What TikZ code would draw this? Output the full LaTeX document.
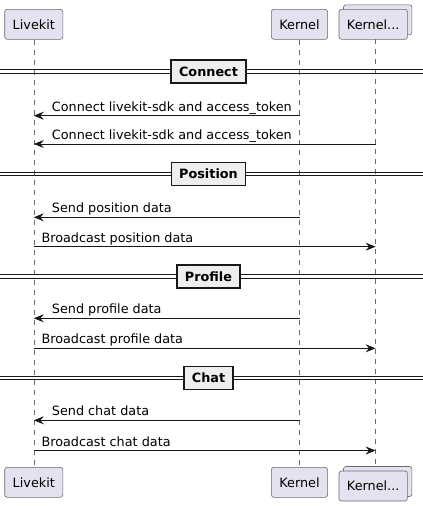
\documentclass[tikz,border=0pt]{standalone}
\usepackage{fontspec}
\setmainfont{DejaVu Sans}
\usepackage{xcolor}
\usetikzlibrary{positioning,calc,arrows.meta}

\definecolor{partfill}{HTML}{E2E2F0}
\definecolor{partline}{HTML}{181818}
\definecolor{sepfill}{HTML}{EEEEEE}

\tikzset{
    partbox/.style={draw=partline!65, line width=0.6pt, fill=partfill, rounded corners=2.5pt,
        minimum height=30pt, inner xsep=8pt, font=\fontsize{12.8}{15}\selectfont},
    lifeline/.style={draw=partline!65, line width=0.5pt, dash pattern=on 5pt off 5pt},
    msg/.style={draw=partline, line width=0.8pt, -{Stealth[length=10pt, width=8pt, inset=3.5pt]}},
    msgtext/.style={font=\fontsize{12.8}{15}\selectfont, inner sep=0pt, anchor=base west},
    seplabel/.style={draw=partline, line width=1.4pt, fill=sepfill, minimum height=23pt,
        inner xsep=8pt, font=\fontsize{12.8}{15}\selectfont\bfseries},
}

\begin{document}
\begin{tikzpicture}[x=1pt, y=-1pt]
    \useasboundingbox (0,0) rectangle (423,506);

    % Participants (top)
    \node [partbox] (lkTop) at (33.8, 24.3) {Livekit};
    \node [partbox] (kTop) at (299.5, 24.3) {Kernel};
    \node [partbox] (kcBack) at (377.7, 19.8) {\phantom{Kernel...}};
    \node [partbox] (kcTop) at (373.2, 24.3) {Kernel...};

    % Participants (bottom)
    \node [partbox] (lkBot) at (33.8, 482.3) {Livekit};
    \node [partbox] (kBot) at (299.5, 482.3) {Kernel};
    \node [partbox] (kcBotBack) at (377.7, 481.5) {\phantom{Kernel...}};
    \node [partbox] (kcBot) at (373.2, 486) {Kernel...};

    % Lifelines
    \coordinate (kcLineTop) at (375.6, 39.3);
    \coordinate (kcLineBot) at (375.6, 466.7);
    \draw [lifeline] (lkTop.south) -- (lkBot.north);
    \draw [lifeline] (kTop.south) -- (kBot.north);
    \draw [lifeline] (kcLineTop) -- (kcLineBot);

    % Dividers
    \foreach \y/\name in {71.5/Connect, 174/Position, 276.5/Profile, 378/Chat} {
        \draw [partline, line width=0.9pt] (0, \y-1.7) -- (423, \y-1.7);
        \draw [partline, line width=0.9pt] (0, \y+1.7) -- (423, \y+1.7);
        \node [seplabel] (sep\name) at (208.5, \y) {\name};
    }

    % Connect
    \draw [msg] (kTop |- 0,115.7) -- (lkTop |- 0,115.7);
    \node [msgtext] (msgA) at (51.7, 111.2) {Connect livekit-sdk and access\_token};
    \draw [msg] (kcLineTop |- 0,144) -- (lkTop |- 0,144);
    \node [msgtext] (msgB) at (51.7, 139.5) {Connect livekit-sdk and access\_token};

    % Position
    \draw [msg] (kTop |- 0,217.3) -- (lkTop |- 0,217.3);
    \node [msgtext] (msgC) at (51.7, 212.8) {Send position data};
    \draw [msg] (lkTop |- 0,246.7) -- (kcLineTop |- 0,246.7);
    \node [msgtext] (msgD) at (41.3, 242.2) {Broadcast position data};

    % Profile
    \draw [msg] (kTop |- 0,318.3) -- (lkTop |- 0,318.3);
    \node [msgtext] (msgE) at (51.7, 313.8) {Send profile data};
    \draw [msg] (lkTop |- 0,348.3) -- (kcLineTop |- 0,348.3);
    \node [msgtext] (msgF) at (41.3, 343.8) {Broadcast profile data};

    % Chat
    \draw [msg] (kTop |- 0,420.3) -- (lkTop |- 0,420.3);
    \node [msgtext] (msgG) at (51.7, 415.8) {Send chat data};
    \draw [msg] (lkTop |- 0,450.5) -- (kcLineTop |- 0,450.5);
    \node [msgtext] (msgH) at (41.3, 446) {Broadcast chat data};
\end{tikzpicture}
\end{document}
